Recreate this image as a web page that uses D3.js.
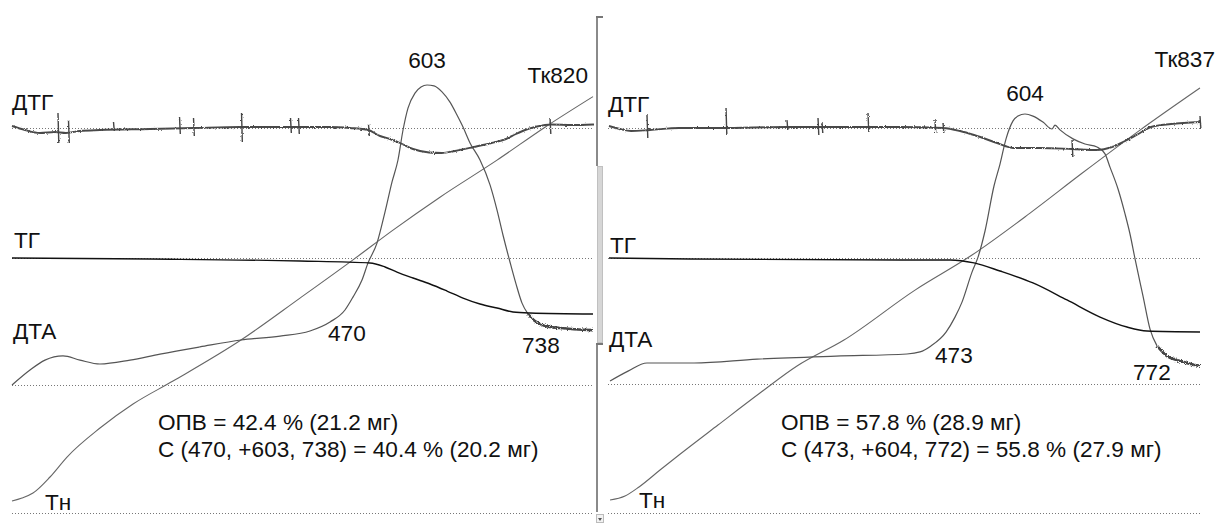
<!DOCTYPE html>
<html><head><meta charset="utf-8">
<script src="https://cdn.jsdelivr.net/npm/d3@7"></script>
<style>
body{margin:0;background:#fff}
svg{display:block}
text{font-family:"Liberation Sans",Arial,sans-serif;fill:#111}
</style>
</head><body>
<svg id="c" width="1218" height="523"></svg>
<script>
// ---------------- DATA (time in min, T in °C, DTA in µV, TG in %, DTG in %/min) ----------------
const curveNames = ["ДТГ", "ТГ", "ДТА"];

// Left sample
const leftDuration = 83;
const leftT = [[0,23.6],[1.43,29.5],[3,39.4],[5.43,70.9],[7.86,110.2],[12.57,167.3],[17.29,214.6],[23,259.8],[32.71,340.6],[41.14,423.2],[48.86,500],[54.43,557.1],[61.14,622],[69.29,694.9],[76.14,759.8],[83,820]];
const leftDTA = [[0,0],[2.57,5],[4.71,8.3],[7.29,9.7],[9.71,8.3],[12.57,7],[16.86,8.3],[21.14,10.3],[26.86,12.7],[32.71,15],[38.29,16.3],[42.57,18],[45.43,21],[47.57,25],[48.71,29.3],[50,35],[50.86,40.7],[52.14,47.3],[53.29,57.7],[54.29,67.7],[55.14,75],[55.86,85],[56.57,92.3],[57.57,97.3],[58.43,99.3],[59.29,100],[60.29,99.7],[61.43,97.7],[62.57,94.3],[63.57,90],[64.43,86],[65.43,80.7],[66.86,75],[68.29,66.7],[69.29,58.3],[70.14,50],[71.14,41],[72,33.7],[72.86,27.3],[73.71,23.7],[74.71,21.3],[76.14,19.7],[78.29,19],[83,18.3]];
const leftTG = [[0,100],[19.71,99.2],[41.14,97.7],[51.14,96.2],[53.29,93.1],[55,89.2],[57.29,84.6],[59.71,80],[62.14,74.6],[64.43,69.2],[66.86,64.6],[69.29,61.5],[71.57,58.5],[74,57.7],[83,56.9]];
const leftDTG = [[0,0.4],[1.86,-0.4],[4,-1],[6.14,-0.8],[7.71,-1],[9.71,-0.6],[12.57,-0.4],[19.71,-0.2],[25.86,0],[32.71,0.2],[40,0.2],[45.43,0.2],[48.29,0],[50.86,-0.4],[52.57,-1.6],[54,-2.2],[55.43,-3],[57.29,-4.2],[59.57,-4.9],[61.4,-5],[63.3,-4.6],[66,-3.8],[68.5,-3],[70.57,-2.2],[72,-1.2],[73.5,-0.3],[75,0.3],[77,0.7],[80,0.6],[83,0.7]];
const leftSpikes = [[6.57,3,-3],[8.07,1.6,-3],[14.5,1.2,-0.6],[23.93,2.2,-1.2],[25.93,2,-1.6],[32.79,3,-2.8],[39.79,2,-1],[40.93,2,-1.2],[50.93,0.8,-1.6],[76.86,2,-1.2]];
const leftTailFrom = 73.7;
const leftMarks = ["470", "603", "738"];
const leftEnds = ["Тн", "Тк820"];
const leftResult = ["ОПВ = 42.4 % (21.2 мг)", "С (470, +603, 738) = 40.4 % (20.2 мг)"];

// Right sample
const rightDuration = 84.57;
const rightT = [[0.29,25.6],[2.43,33.5],[4.43,51.2],[7.43,84.6],[10.14,114.2],[15.71,173.2],[21.71,236.2],[27,289.4],[33.71,340.6],[43.86,439],[52,508],[60.29,590.6],[67.71,669],[76,754],[84.57,837]];
const rightDTA = [[0.29,1],[2.86,4.3],[5.57,7],[12.29,7],[21.29,8.3],[32.57,9.3],[42.71,10],[44.57,10.7],[46.14,12.7],[48.29,17.3],[49.57,22.3],[50.57,27.3],[52,37.3],[52.86,42.3],[53.86,51],[55.14,66],[56,73.3],[56.86,81.7],[57.86,87.7],[58.57,89.3],[59.57,90],[60.71,89.3],[62.14,87.3],[63.43,85],[63.86,86.3],[64.57,84.7],[66.43,81.7],[68.14,80],[69.86,79],[71,76.7],[71.71,72.3],[72.86,65],[73.86,56.7],[74.57,50],[75.29,41.7],[76.43,29.3],[77.43,18.3],[78.43,12.7],[79.86,9.3],[81.71,7.7],[84.57,6]];
const rightTG = [[0.14,100],[11.71,99.2],[41.71,98.5],[48.86,98.5],[52.29,96.2],[56,90],[60.71,80.8],[65.57,67.7],[70.29,54.6],[74.14,46.9],[77,43.8],[84.57,43.1]];
const rightDTG = [[0.14,0.4],[1.71,-0.2],[3.29,-0.6],[6,-0.4],[10.14,0],[16,0],[25.57,0.2],[34.57,0.2],[41.71,0.2],[47.86,0],[50.29,-0.6],[52.29,-1.4],[55.14,-2.8],[56.71,-3.6],[57.86,-4],[61.71,-4],[66.29,-4.2],[69.86,-4.4],[72,-3.8],[73.86,-2.6],[76,-1],[77.57,0.2],[80.43,0.8],[84.57,1.2]];
const rightSpikes = [[5.57,2.6,-2],[16.86,4,-1.4],[25.57,1.6,-0.4],[30,2,-1.4],[30.57,1.2,-1],[37.14,3,-0.8],[46.71,1.6,-1],[47.86,1,-1],[66.29,-2.4,-5.8],[84.57,2.4,0]];
const rightTailFrom = 77.8;
const rightMarks = ["473", "604", "772"];
const rightEnds = ["Тн", "Тк837"];
const rightResult = ["ОПВ = 57.8 % (28.9 мг)", "С (473, +604, 772) = 55.8 % (27.9 мг)"];

// ---------------- DRAWING ----------------
const svg = d3.select("#c");
const FS = 22.6;

// recorder-noise look for the DTG trace and the DTA tail (rendering style only)
const defs = svg.append("defs");
function jitter(id, freq, scale) {
  const f = defs.append("filter").attr("id", id).attr("filterUnits", "userSpaceOnUse")
    .attr("x", 0).attr("y", 0).attr("width", 1218).attr("height", 523);
  f.append("feTurbulence").attr("type", "fractalNoise").attr("baseFrequency", freq)
    .attr("numOctaves", 1).attr("seed", 4).attr("result", "n");
  f.append("feDisplacementMap").attr("in", "SourceGraphic").attr("in2", "n")
    .attr("scale", scale).attr("xChannelSelector", "R").attr("yChannelSelector", "G");
}
jitter("jitDTG", "0.9 0.5", 2.6);
jitter("jitTail", "1.2 0.9", 4.5);

function drawPanel(p) {
  const g = svg.append("g");
  const x = d3.scaleLinear().domain([0, p.duration]).range(p.xr);
  const yT = d3.scaleLinear().domain([0, 837]).range([p.base.T, 88]);
  const yDTA = d3.scaleLinear().domain([0, 100]).range([p.base.DTA, p.base.DTA - 300]);
  const yTG = d3.scaleLinear().domain([100, 50]).range([258, 323]);
  const yDTG = d3.scaleLinear().domain([0, -5]).range([128, 153]);

  [yDTG(0), yTG(100), yDTA(0), yT(0)].forEach(yy => {
    g.append("line").attr("x1", p.xr[0]).attr("x2", p.xr[1])
      .attr("y1", yy + 0.5).attr("y2", yy + 0.5)
      .attr("stroke", "#777").attr("stroke-width", 1).attr("stroke-dasharray", "1,2");
  });

  const mk = ys => d3.line().x(d => x(d[0])).y(d => ys(d[1])).curve(d3.curveMonotoneX);

  g.append("path").attr("d", mk(yT)(p.T)).attr("fill", "none").attr("stroke", "#666").attr("stroke-width", 1.1);
  const i0 = p.DTA.findIndex(d => d[0] >= p.tailFrom);
  const main = p.DTA.slice(0, i0 + 1);
  const tail = p.DTA.slice(i0);
  g.append("path").attr("d", mk(yDTA)(main)).attr("fill", "none").attr("stroke", "#555").attr("stroke-width", 1.2);
  g.append("path").attr("d", mk(yDTA)(tail)).attr("fill", "none").attr("stroke", "#444").attr("stroke-width", 2.6)
    .attr("filter", "url(#jitTail)");
  const dg = g.append("g").attr("filter", "url(#jitDTG)");
  dg.append("path").attr("d", mk(yDTG)(p.DTG)).attr("fill", "none").attr("stroke", "#4a4a4a").attr("stroke-width", 1.9);
  dg.selectAll(null).data(p.spikes).enter().append("line")
    .attr("x1", d => x(d[0])).attr("x2", d => x(d[0]) + 0.8)
    .attr("y1", d => yDTG(d[1])).attr("y2", d => yDTG(d[2]))
    .attr("stroke", "#444").attr("stroke-width", 1.4);
  g.append("path").attr("d", mk(yTG)(p.TG)).attr("fill", "none").attr("stroke", "#111").attr("stroke-width", 1.4);

  const txt = (s, xx, yy, anchor) => g.append("text").attr("x", xx).attr("y", yy)
    .attr("font-size", FS).attr("text-anchor", anchor || "start").text(s);

  const L = p.lab;
  txt(curveNames[0], L.dtg[0], L.dtg[1]);
  txt(curveNames[1], L.tg[0], L.tg[1]);
  txt(curveNames[2], L.dta[0], L.dta[1]);
  txt(p.marks[0], L.on[0], L.on[1]);
  const peak = p.DTA.reduce((a, b) => b[1] > a[1] ? b : a);
  txt(p.marks[1], x(peak[0]), L.peakY, "middle");
  txt(p.marks[2], L.end[0], L.end[1]);
  txt(p.ends[0], L.tn[0], L.tn[1]);
  txt(p.ends[1], L.tk[0], L.tk[1], "end");
  txt(p.result[0], L.res[0], L.res[1]);
  txt(p.result[1], L.res[0], L.res[1] + 27);
}

drawPanel({
  duration: leftDuration, xr: [12, 593], base: {T: 513, DTA: 385}, tailFrom: leftTailFrom,
  T: leftT, DTA: leftDTA, TG: leftTG, DTG: leftDTG, spikes: leftSpikes,
  marks: leftMarks, ends: leftEnds, result: leftResult,
  lab: {dtg: [12, 110], tg: [14, 248], dta: [13, 339], on: [328, 341], peakY: 68, end: [522, 353],
        tn: [45, 510], tk: [588, 83], res: [158, 430]}
});
drawPanel({
  duration: rightDuration, xr: [608, 1200], base: {T: 513, DTA: 384}, tailFrom: rightTailFrom,
  T: rightT, DTA: rightDTA, TG: rightTG, DTG: rightDTG, spikes: rightSpikes,
  marks: rightMarks, ends: rightEnds, result: rightResult,
  lab: {dtg: [608, 112], tg: [610, 253], dta: [609, 347], on: [935, 363], peakY: 101, end: [1133, 380],
        tn: [639, 508], tk: [1215, 67], res: [781, 430]}
});

// divider (scroll-bar like separator between the two thermograms)
const dv = svg.append("g");
dv.append("rect").attr("x", 596).attr("y", 16).attr("width", 2).attr("height", 150).attr("fill", "#8a8a8a");
dv.append("rect").attr("x", 596).attr("y", 16).attr("width", 7).attr("height", 2).attr("fill", "#777");
dv.append("rect").attr("x", 597.5).attr("y", 166.5).attr("width", 5).attr("height", 176).attr("fill", "#d6d6d6").attr("stroke", "#c0c0c0");
dv.append("rect").attr("x", 596).attr("y", 343).attr("width", 7).attr("height", 2).attr("fill", "#777");
dv.append("rect").attr("x", 596).attr("y", 345).attr("width", 2).attr("height", 167).attr("fill", "#8a8a8a");
dv.append("rect").attr("x", 596.5).attr("y", 514.5).attr("width", 7).attr("height", 8).attr("fill", "#f2f2f2").attr("stroke", "#bbb");
dv.append("path").attr("d", "M598,518 L602,518 L600,521 Z").attr("fill", "#555");
</script>
</body></html>
